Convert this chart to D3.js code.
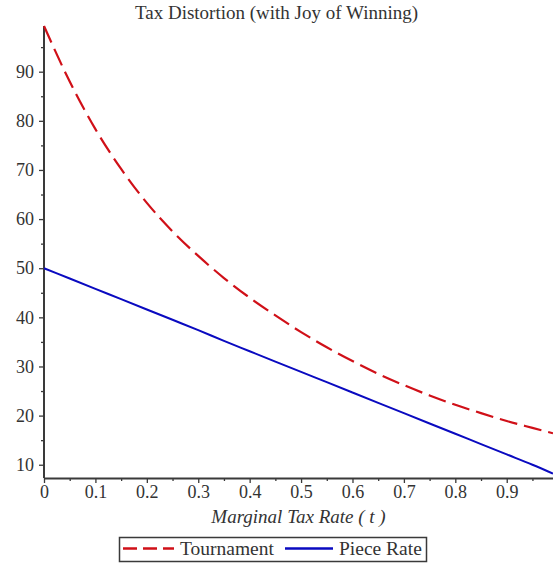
<!DOCTYPE html>
<html>
<head>
<meta charset="utf-8">
<script src="https://cdn.jsdelivr.net/npm/d3@7"></script>
<style>
  body { margin: 0; background: #fff; }
  svg { display: block; font-family: "Liberation Serif", "Times New Roman", serif; }
</style>
</head>
<body>
<div id="chart"></div>
<script>
// values
const taxRates = [0, 0.05, 0.1, 0.15, 0.2, 0.25, 0.3, 0.35, 0.4, 0.45, 0.5,
                  0.55, 0.6, 0.65, 0.7, 0.75, 0.8, 0.85, 0.9, 0.95, 0.99];
const tournament = [99.3, 88.0, 78.3, 70.2, 63.3, 57.5, 52.5, 48.0, 44.0, 40.4, 37.0,
                    33.9, 31.1, 28.5, 26.2, 24.1, 22.2, 20.5, 18.9, 17.5, 16.4];
const pieceRate = [50.0, 47.9, 45.8, 43.7, 41.6, 39.5, 37.4, 35.2, 33.1, 31.0, 28.9,
                   26.8, 24.7, 22.6, 20.5, 18.4, 16.3, 14.2, 12.1, 10.0, 8.2];
const xTicks = [0, 0.1, 0.2, 0.3, 0.4, 0.5, 0.6, 0.7, 0.8, 0.9];
const xMinor = [0.05, 0.15, 0.25, 0.35, 0.45, 0.55, 0.65, 0.75, 0.85, 0.95];
const yTicks = [10, 20, 30, 40, 50, 60, 70, 80, 90];
const yMinor = [15, 25, 35, 45, 55, 65, 75, 85, 95];
const seriesNames = ['Tournament', 'Piece Rate'];

const width = 553, height = 563;
const margin = { top: 26, right: 0, bottom: 85, left: 44 };
const innerW = width - margin.left - margin.right;
const innerH = height - margin.top - margin.bottom;

const svg = d3.select('#chart').append('svg')
    .attr('width', width)
    .attr('height', height);

const g = svg.append('g')
    .attr('transform', `translate(${margin.left},${margin.top})`);

const x = d3.scaleLinear().domain([0, 0.99]).range([0, innerW]);
const y = d3.scaleLinear().domain([7.3, 99.3]).range([innerH, 0]);

const axisColor = '#3a3a3a';
const textColor = '#333';

// minor ticks first
g.append('g')
    .attr('transform', `translate(0,${innerH})`)
    .call(d3.axisBottom(x).tickValues(xMinor).tickSize(3).tickFormat(''))
    .call(a => a.select('.domain').remove())
    .selectAll('line').attr('stroke', axisColor).attr('stroke-width', 1.3);

g.append('g')
    .call(d3.axisLeft(y).tickValues(yMinor).tickSize(3).tickFormat(''))
    .call(a => a.select('.domain').remove())
    .selectAll('line').attr('stroke', axisColor).attr('stroke-width', 1.3);

const xAxis = g.append('g')
    .attr('transform', `translate(0,${innerH})`)
    .call(d3.axisBottom(x).tickValues(xTicks).tickSize(5).tickPadding(2)
        .tickFormat(d => d === 0 ? '0' : d3.format('.1f')(d)).tickSizeOuter(0));

const yAxis = g.append('g')
    .call(d3.axisLeft(y).tickValues(yTicks).tickSize(5).tickPadding(5).tickSizeOuter(0));

[xAxis, yAxis].forEach(a => {
    a.select('.domain').attr('stroke', axisColor).attr('stroke-width', 2);
    a.selectAll('line').attr('stroke', axisColor).attr('stroke-width', 1.3);
    a.selectAll('text')
        .attr('fill', textColor)
        .style('font-family', '"Liberation Serif", serif')
        .style('font-size', '18px');
});
yAxis.select('.domain').attr('d', `M0,0V${innerH}`);

// lines
const line = d3.line()
    .x((d, i) => x(taxRates[i]))
    .y(d => y(d))
    .curve(d3.curveMonotoneX);

g.append('path')
    .datum(pieceRate)
    .attr('fill', 'none')
    .attr('stroke', '#0a0ac0')
    .attr('stroke-width', 2)
    .attr('d', line);

g.append('path')
    .datum(tournament)
    .attr('fill', 'none')
    .attr('stroke', '#d01018')
    .attr('stroke-width', 2.2)
    .attr('stroke-dasharray', '18,7')
    .attr('d', line);

// title
svg.append('text')
    .attr('x', width / 2)
    .attr('y', 19)
    .attr('text-anchor', 'middle')
    .attr('fill', textColor)
    .style('font-size', '19px')
    .text('Tax Distortion (with Joy of Winning)');

// x axis label
svg.append('text')
    .attr('x', margin.left + innerW / 2)
    .attr('y', 523)
    .attr('text-anchor', 'middle')
    .attr('fill', textColor)
    .style('font-size', '19px')
    .style('font-style', 'italic')
    .text('Marginal Tax Rate ( t )');

// legend
const legend = svg.append('g');
legend.append('rect')
    .attr('x', 119.5).attr('y', 537.5)
    .attr('width', 307).attr('height', 24)
    .attr('fill', 'none')
    .attr('stroke', axisColor)
    .attr('stroke-width', 1.5);

legend.append('line')
    .attr('x1', 123).attr('x2', 174).attr('y1', 548.5).attr('y2', 548.5)
    .attr('stroke', '#d01018').attr('stroke-width', 2.5)
    .attr('stroke-dasharray', '14,6');
legend.append('text')
    .attr('x', 180).attr('y', 555)
    .attr('fill', textColor).style('font-size', '19.5px')
    .text(seriesNames[0]);

legend.append('line')
    .attr('x1', 285).attr('x2', 333).attr('y1', 548.5).attr('y2', 548.5)
    .attr('stroke', '#0a0ac0').attr('stroke-width', 2.5);
legend.append('text')
    .attr('x', 339).attr('y', 555)
    .attr('fill', textColor).style('font-size', '19.5px')
    .text(seriesNames[1]);
</script>
</body>
</html>
